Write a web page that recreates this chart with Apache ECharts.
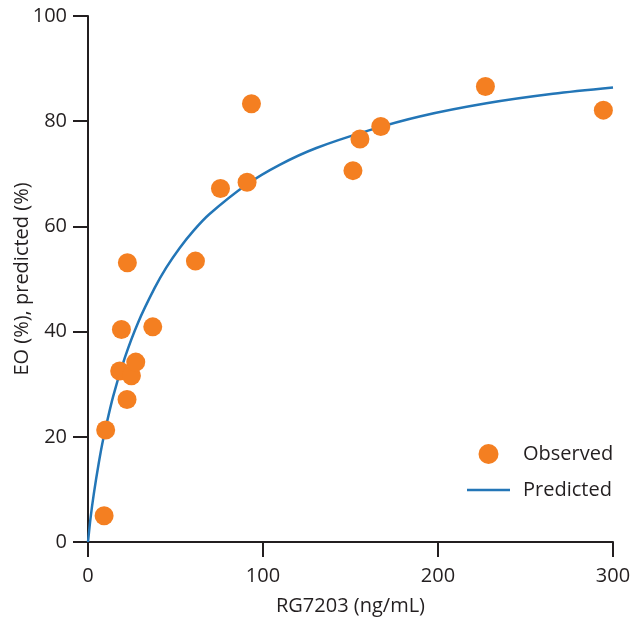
<!DOCTYPE html>
<html>
<head>
<meta charset="utf-8">
<script src="https://cdn.jsdelivr.net/npm/echarts@6/dist/echarts.min.js"></script>
<style>
  html, body { margin: 0; padding: 0; background: #fff; }
  #chart { width: 632px; height: 624px; }
</style>
</head>
<body>
<div id="chart"></div>
<script>
// observed concentration (ng/mL) and EO (%)
var obsConc = [9.2, 10.1, 22.3, 18.1, 24.8, 27.3, 19.1, 37.0, 22.5, 61.4, 75.7, 90.9, 93.4, 151.4, 155.4, 167.3, 227.1, 294.5];
var obsEO = [5.0, 21.3, 27.1, 32.5, 31.6, 34.2, 40.4, 40.9, 53.1, 53.4, 67.2, 68.4, 83.3, 70.6, 76.6, 79.0, 86.6, 82.1];

// predicted curve
var predConc = [0, 1.4, 3.3, 6.2, 8.6, 14.3, 21.0, 28.6, 38.1, 44.8, 52.4, 60.1, 69.3, 90.9, 109.5, 130.5, 161, 189.5, 227.7, 265.7, 300];
var predEO = [0, 4.4, 9.1, 15.1, 19.4, 27.6, 35.0, 41.7, 48.3, 52.2, 55.9, 59.1, 62.3, 68.0, 71.7, 74.9, 78.3, 80.9, 83.4, 85.2, 86.4];

var ink = '#231f20';
var font = '"Open Sans", "Noto Sans", sans-serif';

var chart = echarts.init(document.getElementById('chart'));

var axisCommon = {
  axisLine: { show: true, lineStyle: { color: ink, width: 2 } },
  axisTick: { show: true, length: 15, lineStyle: { color: ink, width: 2 } },
  splitLine: { show: false },
  axisLabel: { color: ink, fontSize: 20, fontFamily: font },
  nameTextStyle: { color: ink, fontSize: 20, fontFamily: font },
  nameLocation: 'middle',
  nameMoveOverlap: false
};

chart.setOption({
  animation: false,
  grid: { left: 88, right: 19, top: 16, bottom: 82, outerBoundsMode: 'none' },
  legend: {
    orient: 'vertical',
    left: 467,
    top: 444,
    padding: 0,
    itemWidth: 43,
    itemHeight: 20,
    itemGap: 16,
    textStyle: { color: ink, fontSize: 20, fontFamily: font, padding: [0, 0, 0, 8] },
    data: [
      { name: 'Observed', icon: 'circle' },
      { name: 'Predicted', icon: 'path://M0,0L43,0L43,2.5L0,2.5Z' }
    ]
  },
  xAxis: Object.assign({}, axisCommon, {
    type: 'value',
    min: 0, max: 300, interval: 100,
    name: 'RG7203 (ng/mL)',
    nameGap: 54,
    axisLabel: Object.assign({}, axisCommon.axisLabel, { margin: 24 })
  }),
  yAxis: Object.assign({}, axisCommon, {
    type: 'value',
    min: 0, max: 100, interval: 20,
    name: 'EO (%), predicted (%)',
    nameGap: 56,
    axisLabel: Object.assign({}, axisCommon.axisLabel, { margin: 21 })
  }),
  series: [
    {
      name: 'Predicted',
      type: 'line',
      data: predConc.map(function (c, i) { return [c, predEO[i]]; }),
      smooth: 0.3,
      symbol: 'none',
      lineStyle: { color: '#2376b7', width: 2.5 },
      itemStyle: { color: '#2376b7' },
      z: 2
    },
    {
      name: 'Observed',
      type: 'scatter',
      data: obsConc.map(function (c, i) { return [c, obsEO[i]]; }),
      symbol: 'circle',
      symbolSize: 19,
      itemStyle: { color: '#f47f21', opacity: 1 },
      z: 3
    }
  ]
});
</script>
</body>
</html>
